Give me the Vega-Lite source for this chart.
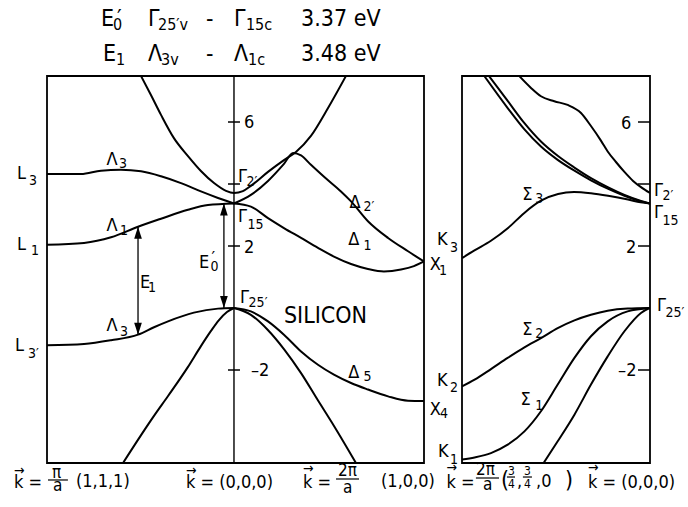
{
  "$schema": "https://vega.github.io/schema/vega-lite/v6.json",
  "background": "white",
  "padding": {"left": 13, "top": 7, "right": 0, "bottom": 0},
  "spacing": 38,
  "bounds": "flush",
  "resolve": {"scale": {"x": "independent", "y": "independent", "size": "independent"}},
  "config": {
    "view": {"stroke": "black", "strokeWidth": 1.8},
    "text": {"font": "DejaVu Sans Condensed"}
  },
  "datasets": {
    "bandsL": [
      {"band": "G2p", "k": -0.489, "E": 7.48}, {"band": "G2p", "k": -0.437, "E": 6.87}, {"band": "G2p", "k": -0.384, "E": 6.23},
      {"band": "G2p", "k": -0.316, "E": 5.48}, {"band": "G2p", "k": -0.242, "E": 4.90}, {"band": "G2p", "k": -0.174, "E": 4.42},
      {"band": "G2p", "k": -0.105, "E": 4.03}, {"band": "G2p", "k": -0.042, "E": 3.78}, {"band": "G2p", "k": 0, "E": 3.71},
      {"band": "G2p", "k": 0.047, "E": 3.77}, {"band": "G2p", "k": 0.089, "E": 3.94}, {"band": "G2p", "k": 0.179, "E": 4.39},
      {"band": "G2p", "k": 0.263, "E": 4.77}, {"band": "G2p", "k": 0.326, "E": 5.03}, {"band": "G2p", "k": 0.405, "E": 5.55},
      {"band": "G2p", "k": 0.495, "E": 6.45}, {"band": "G2p", "k": 0.589, "E": 7.48},

      {"band": "Lam3c", "k": -0.984, "E": 4.32}, {"band": "Lam3c", "k": -0.805, "E": 4.32}, {"band": "Lam3c", "k": -0.700, "E": 4.43},
      {"band": "Lam3c", "k": -0.595, "E": 4.46}, {"band": "Lam3c", "k": -0.489, "E": 4.41}, {"band": "Lam3c", "k": -0.384, "E": 4.25},
      {"band": "Lam3c", "k": -0.279, "E": 4.03}, {"band": "Lam3c", "k": -0.174, "E": 3.76}, {"band": "Lam3c", "k": -0.084, "E": 3.55},
      {"band": "Lam3c", "k": 0, "E": 3.37},

      {"band": "Lam1c", "k": -0.984, "E": 2.04}, {"band": "Lam1c", "k": -0.789, "E": 2.10}, {"band": "Lam1c", "k": -0.647, "E": 2.28},
      {"band": "Lam1c", "k": -0.505, "E": 2.62}, {"band": "Lam1c", "k": -0.384, "E": 2.88}, {"band": "Lam1c", "k": -0.242, "E": 3.17},
      {"band": "Lam1c", "k": -0.137, "E": 3.32}, {"band": "Lam1c", "k": 0, "E": 3.37},

      {"band": "Del1c", "k": 0, "E": 3.37}, {"band": "Del1c", "k": 0.089, "E": 3.27}, {"band": "Del1c", "k": 0.179, "E": 2.90},
      {"band": "Del1c", "k": 0.263, "E": 2.58}, {"band": "Del1c", "k": 0.353, "E": 2.26}, {"band": "Del1c", "k": 0.442, "E": 1.94},
      {"band": "Del1c", "k": 0.526, "E": 1.66}, {"band": "Del1c", "k": 0.616, "E": 1.42}, {"band": "Del1c", "k": 0.705, "E": 1.26},
      {"band": "Del1c", "k": 0.789, "E": 1.18}, {"band": "Del1c", "k": 0.879, "E": 1.24}, {"band": "Del1c", "k": 0.947, "E": 1.35},
      {"band": "Del1c", "k": 1.0, "E": 1.50},

      {"band": "Del2p", "k": 0, "E": 3.37}, {"band": "Del2p", "k": 0.089, "E": 3.65}, {"band": "Del2p", "k": 0.179, "E": 4.10},
      {"band": "Del2p", "k": 0.263, "E": 4.65}, {"band": "Del2p", "k": 0.311, "E": 5.00}, {"band": "Del2p", "k": 0.353, "E": 4.92},
      {"band": "Del2p", "k": 0.405, "E": 4.62}, {"band": "Del2p", "k": 0.48, "E": 4.20}, {"band": "Del2p", "k": 0.563, "E": 3.76},
      {"band": "Del2p", "k": 0.616, "E": 3.44}, {"band": "Del2p", "k": 0.705, "E": 2.80}, {"band": "Del2p", "k": 0.811, "E": 2.26},
      {"band": "Del2p", "k": 0.916, "E": 1.83}, {"band": "Del2p", "k": 1.0, "E": 1.50},

      {"band": "Lam3v", "k": -0.984, "E": -1.20}, {"band": "Lam3v", "k": -0.789, "E": -1.16}, {"band": "Lam3v", "k": -0.647, "E": -1.04},
      {"band": "Lam3v", "k": -0.505, "E": -0.86}, {"band": "Lam3v", "k": -0.421, "E": -0.62}, {"band": "Lam3v", "k": -0.347, "E": -0.43},
      {"band": "Lam3v", "k": -0.211, "E": -0.15}, {"band": "Lam3v", "k": -0.084, "E": -0.02}, {"band": "Lam3v", "k": 0, "E": 0},

      {"band": "Lam1v", "k": -0.584, "E": -5.0}, {"band": "Lam1v", "k": -0.489, "E": -4.10}, {"band": "Lam1v", "k": -0.421, "E": -3.48},
      {"band": "Lam1v", "k": -0.347, "E": -2.84}, {"band": "Lam1v", "k": -0.242, "E": -1.90}, {"band": "Lam1v", "k": -0.174, "E": -1.23},
      {"band": "Lam1v", "k": -0.121, "E": -0.74}, {"band": "Lam1v", "k": -0.079, "E": -0.39}, {"band": "Lam1v", "k": -0.037, "E": -0.13},
      {"band": "Lam1v", "k": 0, "E": 0},

      {"band": "Del5v", "k": 0, "E": 0}, {"band": "Del5v", "k": 0.089, "E": -0.11}, {"band": "Del5v", "k": 0.179, "E": -0.43},
      {"band": "Del5v", "k": 0.263, "E": -0.86}, {"band": "Del5v", "k": 0.353, "E": -1.40}, {"band": "Del5v", "k": 0.442, "E": -1.83},
      {"band": "Del5v", "k": 0.526, "E": -2.15}, {"band": "Del5v", "k": 0.616, "E": -2.42}, {"band": "Del5v", "k": 0.705, "E": -2.63},
      {"band": "Del5v", "k": 0.811, "E": -2.85}, {"band": "Del5v", "k": 0.916, "E": -2.99}, {"band": "Del5v", "k": 1.0, "E": -3.0},

      {"band": "Del1v", "k": 0, "E": 0}, {"band": "Del1v", "k": 0.089, "E": -0.22}, {"band": "Del1v", "k": 0.177, "E": -0.70},
      {"band": "Del1v", "k": 0.265, "E": -1.34}, {"band": "Del1v", "k": 0.353, "E": -2.10}, {"band": "Del1v", "k": 0.440, "E": -2.96},
      {"band": "Del1v", "k": 0.528, "E": -3.82}, {"band": "Del1v", "k": 0.642, "E": -5.0}
    ],
    "bandsR": [
      {"band": "Sig3", "s": 1, "E": 1.61}, {"band": "Sig3", "s": 0.936, "E": 1.85}, {"band": "Sig3", "s": 0.846, "E": 2.17},
      {"band": "Sig3", "s": 0.755, "E": 2.58}, {"band": "Sig3", "s": 0.670, "E": 3.06}, {"band": "Sig3", "s": 0.580, "E": 3.46},
      {"band": "Sig3", "s": 0.489, "E": 3.68}, {"band": "Sig3", "s": 0.404, "E": 3.74}, {"band": "Sig3", "s": 0.314, "E": 3.70},
      {"band": "Sig3", "s": 0.223, "E": 3.62}, {"band": "Sig3", "s": 0.117, "E": 3.50}, {"band": "Sig3", "s": 0.05, "E": 3.41},
      {"band": "Sig3", "s": 0, "E": 3.37},

      {"band": "SigA", "s": 0.881, "E": 7.48}, {"band": "SigA", "s": 0.757, "E": 6.45}, {"band": "SigA", "s": 0.669, "E": 5.77},
      {"band": "SigA", "s": 0.580, "E": 5.21}, {"band": "SigA", "s": 0.491, "E": 4.78}, {"band": "SigA", "s": 0.402, "E": 4.43},
      {"band": "SigA", "s": 0.314, "E": 4.12}, {"band": "SigA", "s": 0.225, "E": 3.85}, {"band": "SigA", "s": 0.136, "E": 3.62},
      {"band": "SigA", "s": 0.048, "E": 3.44}, {"band": "SigA", "s": 0, "E": 3.37},

      {"band": "SigB", "s": 0.856, "E": 7.48}, {"band": "SigB", "s": 0.757, "E": 6.68}, {"band": "SigB", "s": 0.669, "E": 5.97},
      {"band": "SigB", "s": 0.580, "E": 5.37}, {"band": "SigB", "s": 0.491, "E": 4.91}, {"band": "SigB", "s": 0.402, "E": 4.53},
      {"band": "SigB", "s": 0.314, "E": 4.19}, {"band": "SigB", "s": 0.225, "E": 3.90}, {"band": "SigB", "s": 0.136, "E": 3.65},
      {"band": "SigB", "s": 0.048, "E": 3.455}, {"band": "SigB", "s": 0, "E": 3.37},

      {"band": "SigG2p", "s": 0.695, "E": 7.48}, {"band": "SigG2p", "s": 0.633, "E": 7.10}, {"band": "SigG2p", "s": 0.580, "E": 6.83},
      {"band": "SigG2p", "s": 0.509, "E": 6.67}, {"band": "SigG2p", "s": 0.438, "E": 6.55}, {"band": "SigG2p", "s": 0.367, "E": 6.29},
      {"band": "SigG2p", "s": 0.314, "E": 5.87}, {"band": "SigG2p", "s": 0.261, "E": 5.40}, {"band": "SigG2p", "s": 0.225, "E": 5.05},
      {"band": "SigG2p", "s": 0.181, "E": 4.71}, {"band": "SigG2p", "s": 0.136, "E": 4.39}, {"band": "SigG2p", "s": 0.090, "E": 4.10},
      {"band": "SigG2p", "s": 0.048, "E": 3.90}, {"band": "SigG2p", "s": 0, "E": 3.71},

      {"band": "Sig2", "s": 1, "E": -2.53}, {"band": "Sig2", "s": 0.933, "E": -2.31}, {"band": "Sig2", "s": 0.846, "E": -1.97},
      {"band": "Sig2", "s": 0.757, "E": -1.61}, {"band": "Sig2", "s": 0.668, "E": -1.27}, {"band": "Sig2", "s": 0.580, "E": -0.97},
      {"band": "Sig2", "s": 0.491, "E": -0.65}, {"band": "Sig2", "s": 0.402, "E": -0.40}, {"band": "Sig2", "s": 0.314, "E": -0.22},
      {"band": "Sig2", "s": 0.225, "E": -0.09}, {"band": "Sig2", "s": 0.119, "E": -0.02}, {"band": "Sig2", "s": 0, "E": 0},

      {"band": "Sig1", "s": 1, "E": -4.89}, {"band": "Sig1", "s": 0.933, "E": -4.82}, {"band": "Sig1", "s": 0.846, "E": -4.68},
      {"band": "Sig1", "s": 0.757, "E": -4.41}, {"band": "Sig1", "s": 0.668, "E": -3.98}, {"band": "Sig1", "s": 0.580, "E": -3.33},
      {"band": "Sig1", "s": 0.491, "E": -2.47}, {"band": "Sig1", "s": 0.402, "E": -1.61}, {"band": "Sig1", "s": 0.314, "E": -0.91},
      {"band": "Sig1", "s": 0.225, "E": -0.43}, {"band": "Sig1", "s": 0.119, "E": -0.11}, {"band": "Sig1", "s": 0, "E": 0},

      {"band": "SigV", "s": 0.566, "E": -5.0}, {"band": "SigV", "s": 0.491, "E": -4.30}, {"band": "SigV", "s": 0.402, "E": -3.44},
      {"band": "SigV", "s": 0.314, "E": -2.47}, {"band": "SigV", "s": 0.225, "E": -1.56}, {"band": "SigV", "s": 0.136, "E": -0.75},
      {"band": "SigV", "s": 0.048, "E": -0.16}, {"band": "SigV", "s": 0, "E": 0}
    ],
    "ticks": [{"E": 6}, {"E": 4}, {"E": 2}, {"E": -2}],
    "arrows": [
      {"name": "E1", "k": -0.505, "lo": -0.86, "hi": 2.62},
      {"name": "E0'", "k": -0.053, "lo": 0, "hi": 3.37}
    ],
    "barsL": [
      {"k": -0.979, "k2": -0.874, "E": -5.548},
      {"k": 0.537, "k2": 0.658, "E": -5.516}
    ],
    "barsR": [
      {"s": 0.926, "s2": 0.803, "E": -5.484},
      {"s": 0.761, "s2": 0.718, "E": -5.452},
      {"s": 0.676, "s2": 0.628, "E": -5.452}
    ],
    "labelsL": [
      {"t": "E", "k": -0.700, "E": 9.10, "role": "head"},
      {"t": "0", "k": -0.637, "E": 8.98, "role": "headsub"},
      {"t": "′", "k": -0.616, "E": 9.10, "role": "head"},
      {"t": "Γ", "k": -0.453, "E": 9.10, "role": "head"},
      {"t": "25′v", "k": -0.400, "E": 8.98, "role": "headsub"},
      {"t": "-", "k": -0.147, "E": 9.10, "role": "head"},
      {"t": "Γ", "k": 0, "E": 9.10, "role": "head"},
      {"t": "15c", "k": 0.063, "E": 8.98, "role": "headsub"},
      {"t": "3.37 eV", "k": 0.353, "E": 9.10, "role": "head"},
      {"t": "E", "k": -0.689, "E": 7.97, "role": "head"},
      {"t": "1", "k": -0.621, "E": 7.85, "role": "headsub"},
      {"t": "Λ", "k": -0.453, "E": 7.97, "role": "head"},
      {"t": "3v", "k": -0.384, "E": 7.85, "role": "headsub"},
      {"t": "-", "k": -0.147, "E": 7.97, "role": "head"},
      {"t": "Λ", "k": 0, "E": 7.97, "role": "head"},
      {"t": "1c", "k": 0.074, "E": 7.85, "role": "headsub"},
      {"t": "3.48 eV", "k": 0.353, "E": 7.97, "role": "head"},

      {"t": "L", "k": -1.142, "E": 4.16, "role": "main"}, {"t": "3", "k": -1.079, "E": 3.97, "role": "sub"},
      {"t": "L", "k": -1.142, "E": 1.87, "role": "main"}, {"t": "1", "k": -1.068, "E": 1.71, "role": "sub"},
      {"t": "L", "k": -1.152, "E": -1.39, "role": "main"}, {"t": "3′", "k": -1.084, "E": -1.61, "role": "sub"},
      {"t": "Λ", "k": -0.671, "E": 4.62, "role": "main"}, {"t": "3", "k": -0.605, "E": 4.52, "role": "sub"},
      {"t": "Λ", "k": -0.671, "E": 2.48, "role": "main"}, {"t": "1", "k": -0.600, "E": 2.36, "role": "sub"},
      {"t": "Λ", "k": -0.671, "E": -0.74, "role": "main"}, {"t": "3", "k": -0.600, "E": -0.90, "role": "sub"},
      {"t": "E", "k": -0.495, "E": 0.65, "role": "main"}, {"t": "1", "k": -0.453, "E": 0.52, "role": "sub"},
      {"t": "E", "k": -0.184, "E": 1.29, "role": "main"}, {"t": "0", "k": -0.124, "E": 1.18, "role": "sub"},
      {"t": "′", "k": -0.118, "E": 1.42, "role": "main"},
      {"t": "Γ", "k": 0.021, "E": 4.07, "role": "main"}, {"t": "2′", "k": 0.066, "E": 3.94, "role": "sub"},
      {"t": "Γ", "k": 0.021, "E": 2.77, "role": "main"}, {"t": "15", "k": 0.071, "E": 2.55, "role": "sub"},
      {"t": "Γ", "k": 0.032, "E": 0.16, "role": "main"}, {"t": "25′", "k": 0.077, "E": 0.03, "role": "sub"},
      {"t": "SILICON", "k": 0.263, "E": -0.48, "role": "big"},
      {"t": "Δ", "k": 0.608, "E": 3.23, "role": "main"}, {"t": "2′", "k": 0.682, "E": 3.13, "role": "sub"},
      {"t": "Δ", "k": 0.602, "E": 2.03, "role": "main"}, {"t": "1", "k": 0.682, "E": 1.88, "role": "sub"},
      {"t": "Δ", "k": 0.602, "E": -2.26, "role": "main"}, {"t": "5", "k": 0.682, "E": -2.36, "role": "sub"},
      {"t": "X", "k": 1.030, "E": 1.23, "role": "main"}, {"t": "1", "k": 1.079, "E": 1.07, "role": "sub"},
      {"t": "X", "k": 1.030, "E": -3.45, "role": "main"}, {"t": "4", "k": 1.084, "E": -3.55, "role": "sub"},
      {"t": "6", "k": 0.053, "E": 5.81, "role": "tick"},
      {"t": "2", "k": 0.053, "E": 1.77, "role": "tick"},
      {"t": "–2", "k": 0.089, "E": -2.19, "role": "tick"},

      {"t": "→", "k": -1.158, "E": -5.40, "role": "vec"},
      {"t": "k =", "k": -1.158, "E": -5.81, "role": "main"},
      {"t": "π", "k": -0.958, "E": -5.48, "role": "frac"},
      {"t": "a", "k": -0.953, "E": -5.90, "role": "frac"},
      {"t": "(1,1,1)", "k": -0.832, "E": -5.77, "role": "main"},
      {"t": "→", "k": -0.253, "E": -5.38, "role": "vec"},
      {"t": "k = (0,0,0)", "k": -0.253, "E": -5.81, "role": "main"},
      {"t": "→", "k": 0.363, "E": -5.33, "role": "vec"},
      {"t": "k =", "k": 0.363, "E": -5.81, "role": "main"},
      {"t": "2π", "k": 0.547, "E": -5.42, "role": "frac"},
      {"t": "a", "k": 0.574, "E": -5.97, "role": "frac"},
      {"t": "(1,0,0)", "k": 0.774, "E": -5.77, "role": "main"}
    ],
    "labelsR": [
      {"t": "K", "s": 1.133, "E": 2.03, "role": "main"}, {"t": "3", "s": 1.064, "E": 1.81, "role": "sub"},
      {"t": "K", "s": 1.133, "E": -2.52, "role": "main"}, {"t": "2", "s": 1.064, "E": -2.71, "role": "sub"},
      {"t": "K", "s": 1.128, "E": -4.81, "role": "main"}, {"t": "1", "s": 1.064, "E": -5.03, "role": "sub"},
      {"t": "Σ", "s": 0.679, "E": 3.49, "role": "main"}, {"t": "3", "s": 0.610, "E": 3.39, "role": "sub"},
      {"t": "Σ", "s": 0.679, "E": -0.86, "role": "main"}, {"t": "2", "s": 0.610, "E": -0.97, "role": "sub"},
      {"t": "Σ", "s": 0.689, "E": -3.13, "role": "main"}, {"t": "1", "s": 0.610, "E": -3.28, "role": "sub"},
      {"t": "Γ", "s": -0.021, "E": 3.61, "role": "main"}, {"t": "2′", "s": -0.066, "E": 3.49, "role": "sub"},
      {"t": "Γ", "s": -0.021, "E": 2.90, "role": "main"}, {"t": "15", "s": -0.066, "E": 2.69, "role": "sub"},
      {"t": "Γ", "s": -0.037, "E": -0.11, "role": "main"}, {"t": "25′", "s": -0.082, "E": -0.29, "role": "sub"},
      {"t": "6", "s": 0.154, "E": 5.78, "role": "tick"},
      {"t": "2", "s": 0.128, "E": 1.77, "role": "tick"},
      {"t": "–2", "s": 0.170, "E": -2.19, "role": "tick"},

      {"t": "→", "s": 1.083, "E": -5.30, "role": "vec"},
      {"t": "k =", "s": 1.083, "E": -5.81, "role": "main"},
      {"t": "2π", "s": 0.926, "E": -5.39, "role": "frac"},
      {"t": "a", "s": 0.888, "E": -5.87, "role": "frac"},
      {"t": "(", "s": 0.793, "E": -5.81, "role": "paren"},
      {"t": "3", "s": 0.755, "E": -5.39, "role": "fracsm"}, {"t": "4", "s": 0.755, "E": -5.81, "role": "fracsm"},
      {"t": ",", "s": 0.707, "E": -5.77, "role": "main"},
      {"t": "3", "s": 0.670, "E": -5.39, "role": "fracsm"}, {"t": "4", "s": 0.670, "E": -5.81, "role": "fracsm"},
      {"t": ",0", "s": 0.606, "E": -5.77, "role": "main"},
      {"t": ")", "s": 0.452, "E": -5.81, "role": "paren"},
      {"t": "→", "s": 0.330, "E": -5.30, "role": "vec"},
      {"t": "k = (0,0,0)", "s": 0.330, "E": -5.81, "role": "main"}
    ]
  },
  "hconcat": [
    {
      "width": 377,
      "height": 387,
      "layer": [
        {
          "data": {"values": [{"k": 0}]},
          "mark": {"type": "rule", "color": "black", "strokeWidth": 1.4},
          "encoding": {
            "x": {"field": "k", "type": "quantitative", "scale": {"domain": [-0.984, 1], "nice": false, "zero": false}, "axis": null}
          }
        },
        {
          "data": {"name": "ticks"},
          "mark": {"type": "tick", "orient": "horizontal", "size": 12, "thickness": 1.5, "color": "black", "opacity": 1},
          "encoding": {
            "x": {"datum": 0, "type": "quantitative", "scale": {"domain": [-0.984, 1], "nice": false, "zero": false}, "axis": null},
            "y": {"field": "E", "type": "quantitative", "scale": {"domain": [-5, 7.484], "nice": false, "zero": false}, "axis": null}
          }
        },
        {
          "data": {"name": "bandsL"},
          "mark": {"type": "line", "interpolate": "monotone", "strokeWidth": 2, "color": "black", "clip": true},
          "encoding": {
            "x": {"field": "k", "type": "quantitative", "scale": {"domain": [-0.984, 1], "nice": false, "zero": false}, "axis": null},
            "y": {"field": "E", "type": "quantitative", "scale": {"domain": [-5, 7.484], "nice": false, "zero": false}, "axis": null},
            "detail": {"field": "band", "type": "nominal"}
          }
        },
        {
          "data": {"name": "arrows"},
          "mark": {"type": "rule", "color": "black", "strokeWidth": 1.3},
          "encoding": {
            "x": {"field": "k", "type": "quantitative", "scale": {"domain": [-0.984, 1], "nice": false, "zero": false}, "axis": null},
            "y": {"field": "lo", "type": "quantitative", "scale": {"domain": [-5, 7.484], "nice": false, "zero": false}, "axis": null},
            "y2": {"field": "hi"}
          }
        },
        {
          "data": {"name": "arrows"},
          "mark": {"type": "point", "shape": "M0,0L-0.32,1L0.32,1Z", "size": 576, "filled": true, "color": "black", "opacity": 1, "strokeWidth": 0},
          "encoding": {
            "x": {"field": "k", "type": "quantitative", "scale": {"domain": [-0.984, 1], "nice": false, "zero": false}, "axis": null},
            "y": {"field": "hi", "type": "quantitative", "scale": {"domain": [-5, 7.484], "nice": false, "zero": false}, "axis": null}
          }
        },
        {
          "data": {"name": "arrows"},
          "mark": {"type": "point", "shape": "M0,0L-0.32,-1L0.32,-1Z", "size": 576, "filled": true, "color": "black", "opacity": 1, "strokeWidth": 0},
          "encoding": {
            "x": {"field": "k", "type": "quantitative", "scale": {"domain": [-0.984, 1], "nice": false, "zero": false}, "axis": null},
            "y": {"field": "lo", "type": "quantitative", "scale": {"domain": [-5, 7.484], "nice": false, "zero": false}, "axis": null}
          }
        },
        {
          "data": {"name": "barsL"},
          "mark": {"type": "rule", "color": "black", "strokeWidth": 1.2},
          "encoding": {
            "x": {"field": "k", "type": "quantitative", "scale": {"domain": [-0.984, 1], "nice": false, "zero": false}, "axis": null},
            "x2": {"field": "k2"},
            "y": {"field": "E", "type": "quantitative", "scale": {"domain": [-5, 7.484], "nice": false, "zero": false}, "axis": null}
          }
        },
        {
          "data": {"name": "labelsL"},
          "mark": {"type": "text", "align": "left", "baseline": "alphabetic", "color": "black", "font": "DejaVu Sans Condensed"},
          "encoding": {
            "x": {"field": "k", "type": "quantitative", "scale": {"domain": [-0.984, 1], "nice": false, "zero": false}, "axis": null},
            "y": {"field": "E", "type": "quantitative", "scale": {"domain": [-5, 7.484], "nice": false, "zero": false}, "axis": null},
            "text": {"field": "t"},
            "size": {"field": "role", "type": "nominal", "legend": null,
              "scale": {"type": "ordinal", "domain": ["main", "sub", "tick", "big", "head", "headsub", "frac", "fracsm", "paren", "vec"], "range": [18, 14, 18, 23, 23, 16, 17, 12, 23, 14]}}
          }
        }
      ]
    },
    {
      "width": 188,
      "height": 387,
      "layer": [
        {
          "data": {"name": "ticks"},
          "mark": {"type": "rule", "color": "black", "strokeWidth": 1.5},
          "encoding": {
            "x": {"datum": 0, "type": "quantitative", "scale": {"domain": [0, 1], "reverse": true, "nice": false, "zero": false}, "axis": null},
            "x2": {"datum": 0.064},
            "y": {"field": "E", "type": "quantitative", "scale": {"domain": [-5, 7.484], "nice": false, "zero": false}, "axis": null}
          }
        },
        {
          "data": {"name": "bandsR"},
          "mark": {"type": "line", "interpolate": "monotone", "strokeWidth": 2, "color": "black", "clip": true},
          "encoding": {
            "x": {"field": "s", "type": "quantitative", "scale": {"domain": [0, 1], "reverse": true, "nice": false, "zero": false}, "axis": null},
            "y": {"field": "E", "type": "quantitative", "scale": {"domain": [-5, 7.484], "nice": false, "zero": false}, "axis": null},
            "detail": {"field": "band", "type": "nominal"},
            "order": {"field": "s", "sort": "descending"}
          }
        },
        {
          "data": {"name": "barsR"},
          "mark": {"type": "rule", "color": "black", "strokeWidth": 1.2},
          "encoding": {
            "x": {"field": "s", "type": "quantitative", "scale": {"domain": [0, 1], "reverse": true, "nice": false, "zero": false}, "axis": null},
            "x2": {"field": "s2"},
            "y": {"field": "E", "type": "quantitative", "scale": {"domain": [-5, 7.484], "nice": false, "zero": false}, "axis": null}
          }
        },
        {
          "data": {"name": "labelsR"},
          "mark": {"type": "text", "align": "left", "baseline": "alphabetic", "color": "black", "font": "DejaVu Sans Condensed"},
          "encoding": {
            "x": {"field": "s", "type": "quantitative", "scale": {"domain": [0, 1], "reverse": true, "nice": false, "zero": false}, "axis": null},
            "y": {"field": "E", "type": "quantitative", "scale": {"domain": [-5, 7.484], "nice": false, "zero": false}, "axis": null},
            "text": {"field": "t"},
            "size": {"field": "role", "type": "nominal", "legend": null,
              "scale": {"type": "ordinal", "domain": ["main", "sub", "tick", "big", "head", "headsub", "frac", "fracsm", "paren", "vec"], "range": [18, 14, 18, 23, 23, 16, 17, 12, 23, 14]}}
          }
        }
      ]
    }
  ]
}
